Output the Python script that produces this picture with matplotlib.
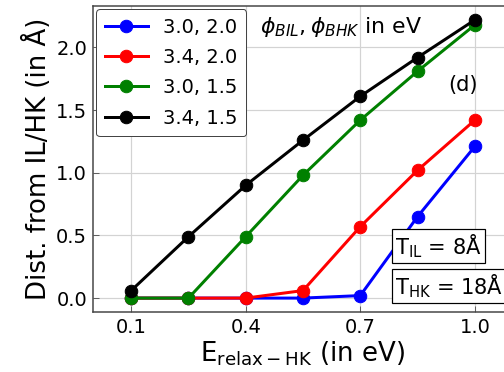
import matplotlib
matplotlib.use("Agg")
import matplotlib.pyplot as plt

e_relax = [0.1, 0.25, 0.4, 0.55, 0.7, 0.85, 1.0]
dist_30_20 = [0.0, 0.0, 0.0, 0.0, 0.02, 0.65, 1.21]
dist_34_20 = [0.0, 0.0, 0.0, 0.06, 0.57, 1.02, 1.42]
dist_30_15 = [0.0, 0.0, 0.49, 0.98, 1.42, 1.81, 2.18]
dist_34_15 = [0.06, 0.49, 0.90, 1.26, 1.61, 1.92, 2.22]
series_labels = ["3.0, 2.0", "3.4, 2.0", "3.0, 1.5", "3.4, 1.5"]
series_colors = ["blue", "red", "green", "black"]
xticks = [0.1, 0.4, 0.7, 1.0]

H = 372
fig = plt.figure(figsize=(7, H / 72), dpi=72)
ax = fig.add_axes([93 / 504, 60 / H, (513 - 93) / 504, (366 - 60) / H])

for ys, lab, col in zip([dist_30_20, dist_34_20, dist_30_15, dist_34_15],
                        series_labels, series_colors):
    ax.plot(e_relax, ys, "-o", color=col, lw=3, ms=12.5, label=lab)

ax.set_xlim(0.0, 1.1)
ax.set_xticks(xticks)
ax.set_yticks([0.0, 0.5, 1.0, 1.5, 2.0])
ax.grid(True, color="#d3d3d3", lw=1.2)
ax.set_axisbelow(True)
ax.tick_params(direction="in", labelsize=19.5, length=6, color="#444444", pad=6)
for s in ax.spines.values():
    s.set_color("#444444")
    s.set_linewidth(1.5)

ax.set_xlabel(r"E$_{\mathrm{relax-HK}}$ (in eV)", fontsize=26, labelpad=2)
ax.set_ylabel("Dist. from IL/HK (in Å)", fontsize=26, labelpad=4)

ax.legend(loc="upper left", fontsize=19.5, handlelength=2.2, handletextpad=0.8,
          borderpad=0.45, borderaxespad=0.15, labelspacing=0.58,
          framealpha=1, edgecolor="#444444", fancybox=True)

# annotations placed in figure pixel coordinates
ax.text(260, H - 27, r"$\phi_{BIL}, \phi_{BHK}$ in eV", transform=None,
        fontsize=22, va="center", ha="left")
ax.text(463, H - 85, "(d)", transform=None, fontsize=21, ha="center", va="center")

box = dict(boxstyle="square,pad=0.15", fc="white", ec="black", lw=1.2)
ax.text(395, H - 246, r"T$_{\mathrm{IL}}$ = 8Å", transform=None,
        fontsize=21, va="center", ha="left", bbox=box)
ax.text(395, H - 286, r"T$_{\mathrm{HK}}$ = 18Å", transform=None,
        fontsize=21, va="center", ha="left", bbox=box)

fig.savefig("out.png", dpi=72)
